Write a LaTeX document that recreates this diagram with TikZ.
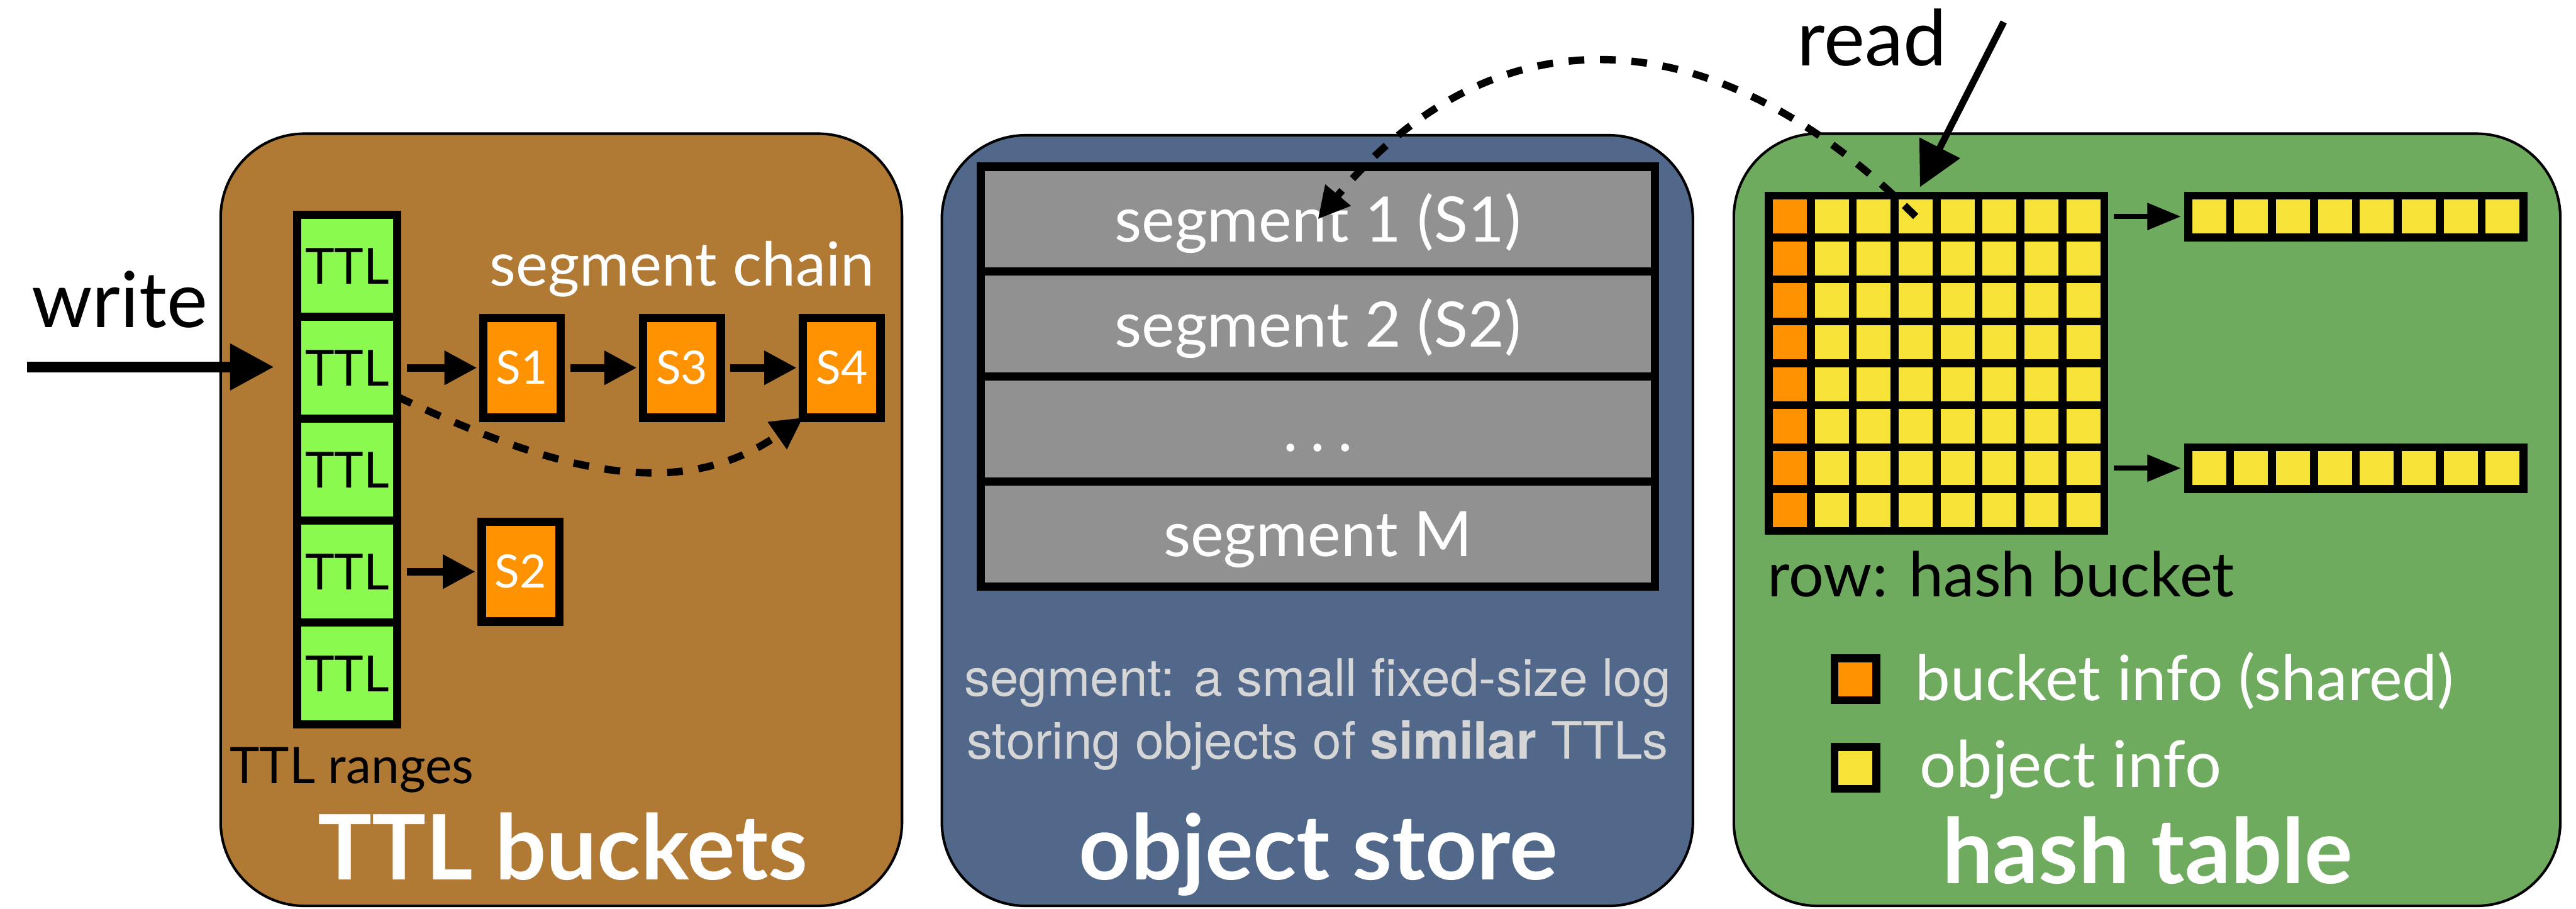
\documentclass[tikz,border=0pt]{standalone}
\usepackage{fontspec}
\setmainfont{Lato}
\newfontfamily\helvfont{TeX Gyre Heros}
\usepackage{tikz}
\usetikzlibrary{positioning,arrows.meta}
\definecolor{mybrown}{RGB}{176,121,52}
\definecolor{myslate}{RGB}{81,104,138}
\definecolor{mygreen}{RGB}{111,171,94}
\definecolor{mylime}{RGB}{138,250,78}
\definecolor{myorange}{RGB}{254,146,0}
\definecolor{myyellow}{RGB}{247,227,55}
\definecolor{mygray}{RGB}{145,145,145}
\definecolor{mynote}{RGB}{214,214,214}
\newcommand{\setfs}[1]{\fontsize{#1}{#1}\selectfont}

\begin{document}
\begin{tikzpicture}[
  panel/.style={
    draw,
    line width=0.7pt,
    rounded corners=0.8cm,
    inner sep=0,
    outer sep=0
  },
  ttlcell/.style={
    draw,
    line width=0.08cm,
    fill=mylime,
    minimum width=0.955cm,
    minimum height=0.972cm,
    inner sep=0,
    outer sep=0,
    font=\setfs{13.5}
  },
  segbox/.style={
    draw,
    line width=0.08cm,
    fill=myorange,
    text=white,
    minimum width=0.74cm,
    minimum height=0.95cm,
    inner sep=0,
    outer sep=0,
    font=\setfs{12.5}
  },
  segrow/.style={
    draw,
    line width=0.08cm,
    fill=mygray,
    text=white,
    minimum width=6.435cm,
    minimum height=1.00125cm,
    text height=0.6cm,
    text depth=0.17cm,
    inner sep=0,
    outer sep=0,
    font=\setfs{17}
  },
  cell/.style={
    draw,
    line width=0.075cm,
    fill=#1,
    minimum size=0.4cm,
    inner sep=0,
    outer sep=0
  },
  bigarrow/.style={line width=0.1cm, -{Triangle[length=0.42cm,width=0.42cm]}},
  smallarrow/.style={line width=0.07cm, -{Triangle[length=0.31cm,width=0.31cm]}},
  thinarrow/.style={line width=0.045cm, -{Triangle[length=0.32cm,width=0.25cm]}},
  dasharrow/.style={line width=0.07cm, dash pattern=on 0.15cm off 0.15cm,
    -{Triangle[length=0.3cm,width=0.3cm]}},
  paneltitle/.style={anchor=base, text=white, font=\bfseries\setfs{24.5}},
  notetext/.style={anchor=base, text=mynote, font=\helvfont\setfs{14}}
]
\useasboundingbox (0,0) rectangle (24.575,-8.665);

% the three panels
\node[panel, fill=mybrown, minimum width=6.5cm, minimum height=7.365cm] (ttlpanel) at (5.355,-4.9575) {};
\node[panel, fill=myslate, minimum width=7.165cm, minimum height=7.35cm] (storepanel) at (12.5675,-4.965) {};
\node[panel, fill=mygreen, minimum width=7.885cm, minimum height=7.365cm] (hashpanel) at (20.4825,-4.9575) {};

\node[paneltitle] at (5.37,-8.39) {TTL buckets};
\node[paneltitle] at (12.575,-8.39) {object store};
\node[paneltitle] at (20.485,-8.425) {hash table};

% TTL buckets
\node[ttlcell] (t1) at (3.3125,-2.536) {TTL};
\foreach \i [count=\j from 2] in {1,...,4}
  \node[ttlcell, below=0pt of t\i] (t\j) {TTL};

\node[segbox, right=0.82cm of t2] (s1) {S1};
\node[segbox, right=0.785cm of s1] (s3) {S3};
\node[segbox, right=0.785cm of s3] (s4) {S4};
\node[segbox, right=0.805cm of t4] (s2) {S2};

\draw[smallarrow, shorten <=0.09cm, shorten >=0.06cm] (t2) -- (s1);
\draw[smallarrow, shorten <=0.09cm, shorten >=0.06cm] (s1) -- (s3);
\draw[smallarrow, shorten <=0.09cm, shorten >=0.06cm] (s3) -- (s4);
\draw[smallarrow, shorten <=0.09cm, shorten >=0.06cm] (t4) -- (s2);
\draw[dasharrow] (t2.-30) to[out=-25, in=-145] (s4.south west);

\node[anchor=base, text=white, font=\setfs{16.5}] (chainlbl) at (6.5075,-2.725) {segment chain};
\node[anchor=base, font=\setfs{13.7}] (rangelbl) at (3.355,-7.475) {TTL ranges};

\node[anchor=base, font=\setfs{21}] (wlabel) at (1.14,-3.125) {write};
\coordinate (wstart) at (0.255,-3.5);
\draw[bigarrow, shorten >=0.22cm] (wstart) -- (wstart -| t2.west);

% object store
\node[segrow] (seg1) at (12.5725,-2.09) {segment 1 (S1)};
\node[segrow, below=0pt of seg1] (seg2) {segment 2 (S2)};
\node[segrow, below=0pt of seg2] (seg3) {.\hspace{0.12cm}.\hspace{0.12cm}.};
\node[segrow, below=0pt of seg3] (segm) {segment M};

\node[notetext] (note1) at (12.57,-6.64) {segment: a small fixed-size log};
\node[notetext] (note2) at (12.57,-7.24) {storing objects of \textbf{similar} TTLs};

% hash table
\foreach \r in {1,...,8} {
  \node[cell=myorange] (c-\r-1) at ({16.675+0.4},{-1.665-0.4*\r}) {};
  \foreach \c in {2,...,8}
    \node[cell=myyellow] (c-\r-\c) at ({16.675+0.4*\c},{-1.665-0.4*\r}) {};
}

\node[cell=myyellow, right=0.8cm of c-1-8] (ua1) {};
\foreach \k [count=\j from 2] in {1,...,7}
  \node[cell=myyellow, right=0pt of ua\k] (ua\j) {};
\node[cell=myyellow, right=0.8cm of c-7-8] (la1) {};
\foreach \k [count=\j from 2] in {1,...,7}
  \node[cell=myyellow, right=0pt of la\k] (la\j) {};

\draw[thinarrow, shorten <=0.09cm, shorten >=0.07cm] (c-1-8) -- (ua1);
\draw[thinarrow, shorten <=0.09cm, shorten >=0.07cm] (c-7-8) -- (la1);

\node[anchor=base west, font=\setfs{16.8}] (rowlbl) at (16.74,-5.69) {row: hash bucket};

\node[cell=myorange] (lgbucket) at (17.7,-6.4775) {};
\node[cell=myyellow] (lgobject) at (17.7,-7.325) {};
\node[anchor=base west, text=white, font=\setfs{17}] at (18.15,-6.68) {bucket info (shared)};
\node[anchor=base west, text=white, font=\setfs{17.5}] at (18.19,-7.51) {object info};

% read path
\draw[dasharrow] (c-1-4.center) to[out=135, in=50, looseness=1.2] (seg1.center);
\node[anchor=base, font=\setfs{21}] (rlabel) at (17.8575,-0.625) {read};
\coordinate (rstart) at (19.115,-0.21);
\draw[bigarrow, line width=0.065cm, shorten >=0.09cm] (rstart) -- (c-1-4.north);

\end{tikzpicture}
\end{document}
